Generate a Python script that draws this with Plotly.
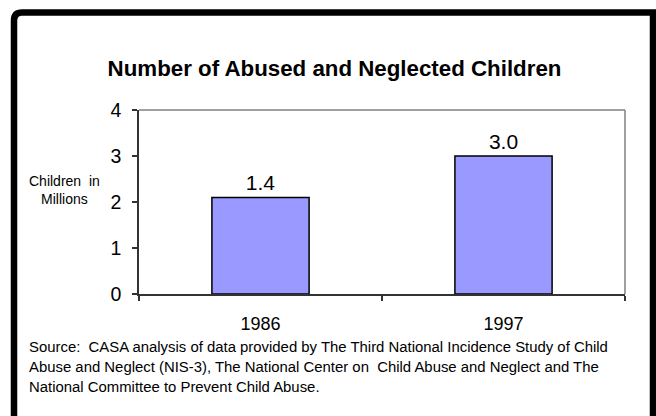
import plotly.graph_objects as go

categories = ["1986", "1997"]
bar_values = [2.1, 3.0]
bar_labels = ["1.4", "3.0"]
y_ticks = [0, 1, 2, 3, 4]
title_text = "Number of Abused and Neglected Children"
y_title = "Children  in<br>Millions"
source_lines = [
    "Source:  CASA analysis of data provided by The Third National Incidence Study of Child",
    "Abuse and Neglect (NIS-3), The National Center on  Child Abuse and Neglect and The",
    "National Committee to Prevent Child Abuse.",
]

W, H = 656, 416
L, R, T, B = 139, 625, 110, 294

def px(x):
    return (x - L) / (R - L)

def py(y):
    return (B - y) / (B - T)

FONT = "Liberation Sans, Arial, sans-serif"

fig = go.Figure()
fig.add_trace(go.Bar(
    x=categories, y=bar_values, text=bar_labels,
    textposition="outside", cliponaxis=False,
    textfont=dict(size=21, color="black", family=FONT),
    marker=dict(color="#9999FF", line=dict(color="black", width=1.5)),
    width=0.4,
))

annotations = [
    dict(text=y_title, x=px(64), y=py(190), xref="paper", yref="paper",
         showarrow=False, align="center", xanchor="center", yanchor="middle",
         font=dict(size=14, color="black", family=FONT)),
]
for i, line in enumerate(source_lines):
    annotations.append(dict(text=line, x=px(27), y=py(347 + 20 * i), xref="paper", yref="paper",
                            showarrow=False, align="left", xanchor="left", yanchor="middle",
                            font=dict(size=14.9, color="black", family=FONT)))

# outer frame with rounded top-left corner
x0, x1 = px(14), px(653)
y0, y1 = py(430), py(12.5)
rx = 8 / (R - L)
ry = 8 / (B - T)
frame_path = (f"M {x0},{y0} L {x0},{y1 - ry} Q {x0},{y1} {x0 + rx},{y1} "
              f"L {x1},{y1} L {x1},{y0}")

shapes = [
    dict(type="path", path=frame_path, xref="paper", yref="paper",
         line=dict(color="black", width=6.5), layer="above"),
    dict(type="line", xref="paper", yref="paper", x0=0, x1=1, y0=1, y1=1,
         line=dict(color="#808080", width=1.5)),
    dict(type="line", xref="paper", yref="paper", x0=1, x1=1, y0=0, y1=1,
         line=dict(color="#808080", width=1.5)),
]

fig.update_layout(
    width=W, height=H,
    margin=dict(l=L, r=W - R, t=T, b=H - B, autoexpand=False),
    paper_bgcolor="white", plot_bgcolor="white",
    showlegend=False,
    title=dict(text=f"<b>{title_text}</b>", x=334.5 / W, xanchor="center",
               y=1 - 68 / H, yanchor="middle",
               font=dict(size=22.3, color="black", family=FONT)),
    font=dict(family=FONT, color="black"),
    annotations=annotations,
    shapes=shapes,
    bargap=0.6,
)
fig.update_xaxes(
    type="category", tickson="boundaries", ticks="outside", ticklen=5,
    tickcolor="#333333", tickwidth=1.5,
    showline=True, linecolor="#333333", linewidth=1.5,
    showgrid=False, tickfont=dict(size=18, color="black", family=FONT),
    ticklabelstandoff=13,
)
fig.update_yaxes(
    range=[0, 4], tickvals=y_ticks, ticks="outside", ticklen=5,
    tickcolor="#333333", tickwidth=1.5,
    showline=True, linecolor="#333333", linewidth=1.5,
    showgrid=False, zeroline=False,
    tickfont=dict(size=19.5, color="black", family=FONT),
    ticklabelstandoff=7,
)

fig.write_html("out.html", config={"displayModeBar": False},
               post_script="document.body.style.margin='0px';")
